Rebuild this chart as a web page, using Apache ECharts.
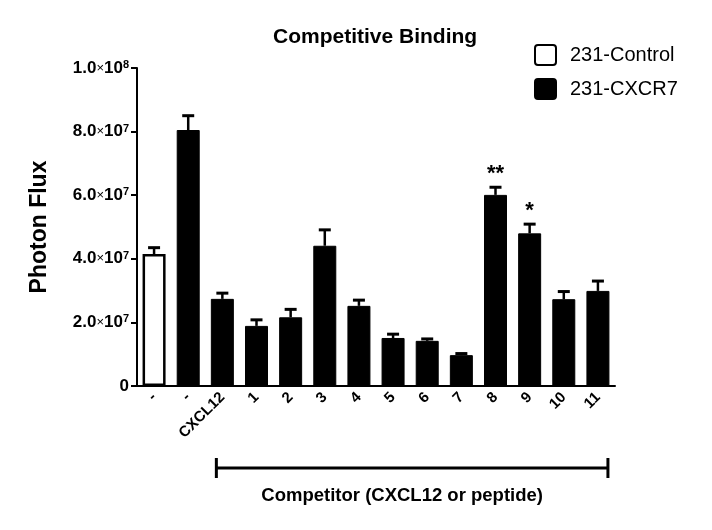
<!DOCTYPE html>
<html><head><meta charset="utf-8">
<script src="https://cdn.jsdelivr.net/npm/echarts@6/dist/echarts.min.js"></script>
<style>html,body{margin:0;padding:0;background:#fff}#c{width:712px;height:530px}</style>
</head><body><div id="c"></div>
<script>
const categories = ['-', '-', 'CXCL12', '1', '2', '3', '4', '5', '6', '7', '8', '9', '10', '11'];
const values = [4.15e7, 8.05e7, 2.74e7, 1.89e7, 2.16e7, 4.41e7, 2.52e7, 1.51e7, 1.42e7, 0.97e7, 6.01e7, 4.80e7, 2.73e7, 2.99e7];
const errors = [0.20e7, 0.45e7, 0.18e7, 0.19e7, 0.25e7, 0.50e7, 0.18e7, 0.12e7, 0.06e7, 0.05e7, 0.24e7, 0.29e7, 0.24e7, 0.31e7];
const groups = ['231-Control', '231-CXCR7', '231-CXCR7', '231-CXCR7', '231-CXCR7', '231-CXCR7', '231-CXCR7', '231-CXCR7', '231-CXCR7', '231-CXCR7', '231-CXCR7', '231-CXCR7', '231-CXCR7', '231-CXCR7'];
const stars = ['', '', '', '', '', '', '', '', '', '', '**', '*', '', ''];
const yTicks = { min: 0, max: 1e8, interval: 2e7 };
const titleText = 'Competitive Binding';
const yName = 'Photon Flux';
const bracketText = 'Competitor (CXCL12 or peptide)';
const bracketFrom = 2, bracketTo = 13;

const FF = '"Liberation Sans", Arial, Helvetica, sans-serif';
const chart = echarts.init(document.getElementById('c'), null, { renderer: 'canvas' });

const controlData = values.map((v, i) => groups[i] === '231-Control' ? v : '-');
const cxcrData = values.map((v, i) => groups[i] === '231-CXCR7' ? v : '-');
const errData = values.map((v, i) => [i, v, errors[i], stars[i]]);

function yLabel(v) {
  if (v === 0) return '{b|0}';
  const exp = Math.floor(Math.log10(v) + 1e-9);
  const m = (v / Math.pow(10, exp)).toFixed(1);
  return '{b|' + m + '}{x|×}{b|10}{s|' + exp + '}';
}

chart.setOption({
  animation: false,
  backgroundColor: '#fff',
  title: {
    text: titleText, left: 268, top: 22,
    textStyle: { fontFamily: FF, fontSize: 21, fontWeight: 'bold', color: '#000' }
  },
  legend: {
    orient: 'vertical', left: 534, top: 44, padding: 0,
    itemWidth: 21, itemHeight: 20, itemGap: 12,
    icon: 'path://M3,0H18Q21,0 21,3V17Q21,20 18,20H3Q0,20 0,17V3Q0,0 3,0Z',
    textStyle: { fontFamily: FF, fontSize: 20, color: '#000', padding: [0, 0, 0, 9] },
    data: ['231-Control', '231-CXCR7']
  },
  grid: { left: 137, right: 97, top: 68, bottom: 144, containLabel: false },
  xAxis: {
    type: 'category', data: categories,
    axisLine: { lineStyle: { color: '#000', width: 2 } },
    axisTick: { alignWithLabel: true, length: 6, lineStyle: { color: '#000', width: 2 } },
    axisLabel: { interval: 0, rotate: 45, margin: 9, color: '#000', fontFamily: FF, fontSize: 15, fontWeight: 'bold' }
  },
  yAxis: {
    type: 'value', min: yTicks.min, max: yTicks.max, interval: yTicks.interval,
    name: yName, nameLocation: 'middle', nameGap: 86,
    nameTextStyle: { fontFamily: FF, fontSize: 23, fontWeight: 'bold', color: '#000' },
    splitLine: { show: false },
    axisLine: { show: true, lineStyle: { color: '#000', width: 2 } },
    axisTick: { show: true, length: 6, lineStyle: { color: '#000', width: 2 } },
    axisLabel: {
      margin: 8, formatter: yLabel,
      rich: {
        b: { fontFamily: FF, fontSize: 17, fontWeight: 'bold', color: '#000' },
        x: { fontFamily: FF, fontSize: 13, color: '#000' },
        s: { fontFamily: FF, fontSize: 11, fontWeight: 'bold', color: '#000', verticalAlign: 'top', padding: [0, 0, 6, 0] }
      }
    }
  },
  series: [
    {
      name: '231-Control', type: 'bar', data: controlData, barWidth: 23, barGap: '-100%',
      itemStyle: { color: '#fff', borderColor: '#000', borderWidth: 2.5 }
    },
    {
      name: '231-CXCR7', type: 'bar', data: cxcrData, barWidth: 23, barGap: '-100%',
      itemStyle: { color: '#000', borderColor: '#000', borderWidth: 1 }
    },
    {
      name: 'err', type: 'custom', data: errData, z: 5,
      encode: { x: 0, y: 1 },
      renderItem: function (params, api) {
        const i = api.value(0), v = api.value(1), e = api.value(2);
        const st = errData[params.dataIndex][3];
        const p0 = api.coord([i, v]);
        const p1 = api.coord([i, v + e]);
        const children = [
          { type: 'line', shape: { x1: p0[0], y1: p0[1], x2: p1[0], y2: p1[1] }, style: { stroke: '#000', lineWidth: 2.5 } },
          { type: 'line', shape: { x1: p1[0] - 6, y1: p1[1], x2: p1[0] + 6, y2: p1[1] }, style: { stroke: '#000', lineWidth: 3 } }
        ];
        if (st) {
          children.push({ type: 'text', style: { text: st, x: p1[0], y: p1[1] - 2, textAlign: 'center', textVerticalAlign: 'bottom', font: 'bold 22px ' + FF, fill: '#000' } });
        }
        return { type: 'group', children: children };
      }
    }
  ]
});

function drawBracket() {
  const a = chart.convertToPixel({ gridIndex: 0 }, [bracketFrom, 0]);
  const b = chart.convertToPixel({ gridIndex: 0 }, [bracketTo, 0]);
  const x1 = a[0] - 6, x2 = b[0] + 10, y = a[1] + 82;
  chart.setOption({
    graphic: [
      { type: 'line', shape: { x1: x1, y1: y, x2: x2, y2: y }, style: { stroke: '#000', lineWidth: 3 } },
      { type: 'line', shape: { x1: x1, y1: y - 10, x2: x1, y2: y + 10 }, style: { stroke: '#000', lineWidth: 3 } },
      { type: 'line', shape: { x1: x2, y1: y - 10, x2: x2, y2: y + 10 }, style: { stroke: '#000', lineWidth: 3 } },
      { type: 'text', x: (x1 + x2) / 2 - 10, y: y + 28, style: { text: bracketText, textAlign: 'center', textVerticalAlign: 'middle', font: 'bold 18.5px ' + FF, fill: '#000' } }
    ]
  });
}
drawBracket();
</script></body></html>
